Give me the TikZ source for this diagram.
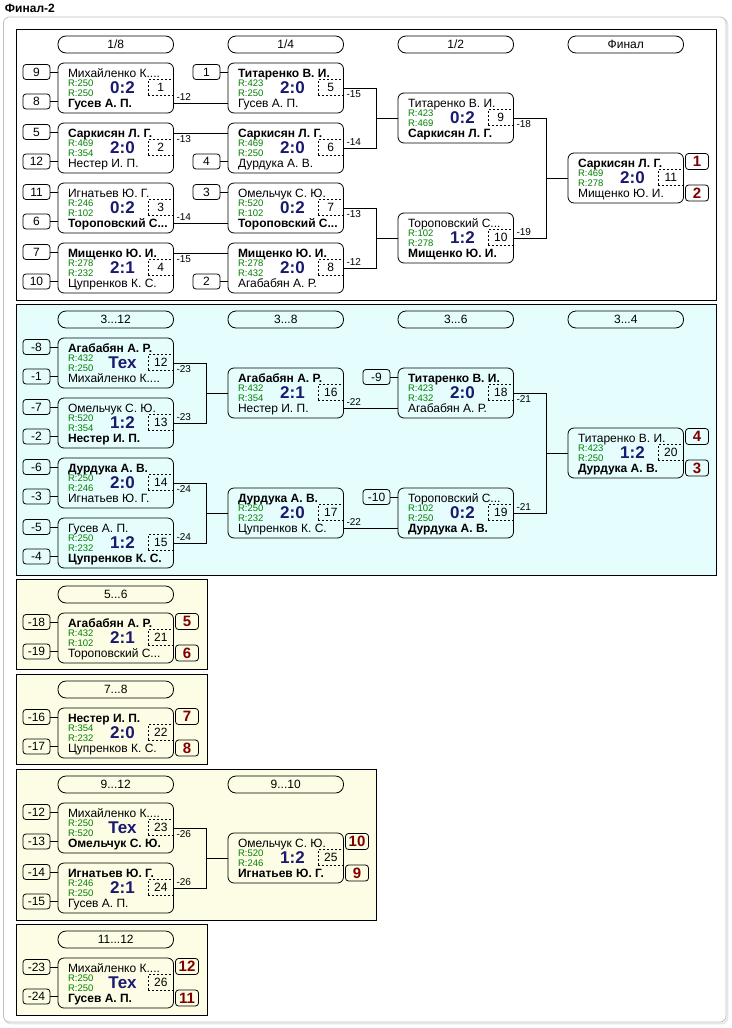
\documentclass[tikz,border=0pt]{standalone}
\usepackage{fontspec}
\setmainfont{Liberation Sans}
\usetikzlibrary{calc}
\definecolor{cyanbg}{RGB}{230,253,253}
\definecolor{yelbg}{RGB}{253,253,230}
\definecolor{rgreen}{RGB}{0,128,0}
\definecolor{scblue}{RGB}{25,25,112}
\definecolor{resred}{RGB}{128,0,0}
\tikzset{
 every node/.style={inner sep=0pt, outer sep=0pt},
 mbox/.style={draw, line width=0.8pt, rounded corners=6pt, minimum width=115.5pt, minimum height=50pt},
 hdr/.style={draw, line width=0.8pt, rounded corners=8pt, minimum width=115.5pt, minimum height=17pt, font=\fontsize{12}{12}\selectfont},
 sbox/.style={draw, line width=0.8pt, rounded corners=3pt, minimum width=27pt, minimum height=15pt, font=\fontsize{12}{12}\selectfont},
 rbox/.style={draw, line width=0.8pt, rounded corners=3pt, minimum width=23pt, minimum height=16pt, font=\fontsize{15}{15}\selectfont\bfseries, text=resred},
 dbox/.style={draw, dash pattern=on 2pt off 2pt, line width=0.8pt, minimum width=25pt, minimum height=16.5pt, font=\fontsize{12}{12}\selectfont},
 nmtxt/.style={font=\fontsize{12}{12}\selectfont, anchor=base west},
 rtxt/.style={font=\fontsize{9.5}{9.5}\selectfont, text=rgreen, anchor=base west},
 sctxt/.style={font=\fontsize{17}{17}\selectfont\bfseries, text=scblue, anchor=base},
 lbl/.style={font=\fontsize{10}{10}\selectfont, anchor=west},
 sect/.style={draw, line width=0.8pt},
 conn/.style={line width=0.8pt},
}
% id, left, top, name1, r1, score, name2, r2
\newcommand\mtch[8]{%
 \node[mbox] (m#1) at ({#2+57.75},{#3+25}) {};
 \node[nmtxt] (m#1-a) at ({#2+10},{#3+14}) {#4};
 \node[rtxt] (m#1-ra) at ({#2+10},{#3+23}) {R:#5};
 \node[sctxt] (m#1-s) at ({#2+64.5},{#3+30.5}) {#6};
 \node[rtxt] (m#1-rb) at ({#2+10},{#3+33}) {R:#8};
 \node[nmtxt] (m#1-b) at ({#2+10},{#3+44}) {#7};
 \node[dbox] (m#1-d) at ({#2+102.75},{#3+24.5}) {#1};
 \coordinate (m#1-it) at (#2,{#3+10});
 \coordinate (m#1-ib) at (#2,{#3+40});
 \coordinate (m#1-ot) at ({#2+115.5},{#3+10});
 \coordinate (m#1-ob) at ({#2+115.5},{#3+40});
}
% name, match, yoffset, text
\newcommand\seed[4]{%
 \node[sbox] (#1) at ($(m#2.north west)+(-21.5,#3)$) {#4};
 \draw[conn] (#1.east) -- (#1.east -| m#2.west);
}
\newcommand\res[4]{%
 \node[rbox] (#1) at ($(m#2.north east)+(13.5,#3)$) {#4};
}
\newcommand\brk[3]{%
 \draw[conn] (m#1.east) -- ++(33,0) coordinate (j#3) |- (m#2.east);
 \draw[conn] (j#3 |- m#3.west) -- (m#3.west);
}
\begin{document}
\begin{tikzpicture}[x=1pt,y=-1pt]
\useasboundingbox (0,0) rectangle (731,1028);
\fill[white] (0,0) rectangle (731,1028);
\node[font=\fontsize{12}{12}\selectfont\bfseries, anchor=base west] (title) at (5,12.5) {Финал-2};
% outer panel
\draw[draw=black!10, line width=1.5pt, rounded corners=6pt] (4.5,18.5) rectangle (727.5,1023.5);
\draw[draw=black!25, fill=white, line width=0.8pt, rounded corners=6pt] (3.5,17) rectangle (726,1022);
% sections
\draw[sect, fill=white] (16,29) rectangle (716,300);
\draw[sect, fill=cyanbg] (16,304) rectangle (716,575);
\draw[sect, fill=yelbg] (16,579) rectangle (207,669);
\draw[sect, fill=yelbg] (16,674) rectangle (207,764);
\draw[sect, fill=yelbg] (16,769) rectangle (376,920);
\draw[sect, fill=yelbg] (16,924) rectangle (207,1015);
% headers
\node[hdr] (h1) at (115.75,44.5) {1/8};
\node[hdr] (h2) at (285.75,44.5) {1/4};
\node[hdr] (h3) at (455.75,44.5) {1/2};
\node[hdr] (h4) at (625.75,44.5) {Финал};
\node[hdr] (h5) at (115.75,319.5) {3...12};
\node[hdr] (h6) at (285.75,319.5) {3...8};
\node[hdr] (h7) at (455.75,319.5) {3...6};
\node[hdr] (h8) at (625.75,319.5) {3...4};
\node[hdr] (h9) at (115.75,594.5) {5...6};
\node[hdr] (h10) at (115.75,689.5) {7...8};
\node[hdr] (h11) at (115.75,784.5) {9...12};
\node[hdr] (h12) at (285.75,784.5) {9...10};
\node[hdr] (h13) at (115.75,939.5) {11...12};
% section 1
\mtch{1}{58}{63}{Михайленко К....}{250}{0:2}{\textbf{Гусев А. П.}}{250}
\mtch{2}{58}{123}{\textbf{Саркисян Л. Г.}}{469}{2:0}{Нестер И. П.}{354}
\mtch{3}{58}{183}{Игнатьев Ю. Г.}{246}{0:2}{\textbf{Тороповский С...}}{102}
\mtch{4}{58}{243}{\textbf{Мищенко Ю. И.}}{278}{2:1}{Цупренков К. С.}{232}
\mtch{5}{228}{63}{\textbf{Титаренко В. И.}}{423}{2:0}{Гусев А. П.}{250}
\mtch{6}{228}{123}{\textbf{Саркисян Л. Г.}}{469}{2:0}{Дурдука А. В.}{250}
\mtch{7}{228}{183}{Омельчук С. Ю.}{520}{0:2}{\textbf{Тороповский С...}}{102}
\mtch{8}{228}{243}{\textbf{Мищенко Ю. И.}}{278}{2:0}{Агабабян А. Р.}{432}
\mtch{9}{398}{93}{Титаренко В. И.}{423}{0:2}{\textbf{Саркисян Л. Г.}}{469}
\mtch{10}{398}{213}{Тороповский С...}{102}{1:2}{\textbf{Мищенко Ю. И.}}{278}
\mtch{11}{568}{153}{\textbf{Саркисян Л. Г.}}{469}{2:0}{Мищенко Ю. И.}{278}
\seed{s1}{1}{9}{9}\seed{s2}{1}{38.5}{8}
\seed{s3}{2}{9}{5}\seed{s4}{2}{38.5}{12}
\seed{s5}{3}{9}{11}\seed{s6}{3}{38.5}{6}
\seed{s7}{4}{9}{7}\seed{s8}{4}{38.5}{10}
\seed{s9}{5}{9}{1}\seed{s10}{6}{38.5}{4}
\seed{s11}{7}{9}{3}\seed{s12}{8}{38.5}{2}
\draw[conn] (m1-ob) -- (m5-ib);
\draw[conn] (m2-ot) -- (m6-it);
\draw[conn] (m3-ob) -- (m7-ib);
\draw[conn] (m4-ot) -- (m8-it);
\brk{5}{6}{9}
\brk{7}{8}{10}
\brk{9}{10}{11}
\node[lbl] (l1) at ([xshift=3pt,yshift=6pt]m1-ob) {-12};
\node[lbl] (l2) at ([xshift=3pt,yshift=-6pt]m2-ot) {-13};
\node[lbl] (l3) at ([xshift=3pt,yshift=6pt]m3-ob) {-14};
\node[lbl] (l4) at ([xshift=3pt,yshift=-6pt]m4-ot) {-15};
\node[lbl] (l5) at ([xshift=3pt,yshift=-6pt]m5.east) {-15};
\node[lbl] (l6) at ([xshift=3pt,yshift=6pt]m6.east) {-14};
\node[lbl] (l7) at ([xshift=3pt,yshift=-6pt]m7.east) {-13};
\node[lbl] (l8) at ([xshift=3pt,yshift=6pt]m8.east) {-12};
\node[lbl] (l9) at ([xshift=3pt,yshift=-6pt]m9.east) {-18};
\node[lbl] (l10) at ([xshift=3pt,yshift=6pt]m10.east) {-19};
\res{r1}{11}{8.5}{1}\res{r2}{11}{40}{2}
% section 2
\mtch{12}{58}{338}{\textbf{Агабабян А. Р.}}{432}{Тех}{Михайленко К....}{250}
\mtch{13}{58}{398}{Омельчук С. Ю.}{520}{1:2}{\textbf{Нестер И. П.}}{354}
\mtch{14}{58}{458}{\textbf{Дурдука А. В.}}{250}{2:0}{Игнатьев Ю. Г.}{246}
\mtch{15}{58}{518}{Гусев А. П.}{250}{1:2}{\textbf{Цупренков К. С.}}{232}
\mtch{16}{228}{368}{\textbf{Агабабян А. Р.}}{432}{2:1}{Нестер И. П.}{354}
\mtch{17}{228}{488}{\textbf{Дурдука А. В.}}{250}{2:0}{Цупренков К. С.}{232}
\mtch{18}{398}{368}{\textbf{Титаренко В. И.}}{423}{2:0}{Агабабян А. Р.}{432}
\mtch{19}{398}{488}{Тороповский С...}{102}{0:2}{\textbf{Дурдука А. В.}}{250}
\mtch{20}{568}{428}{Титаренко В. И.}{423}{1:2}{\textbf{Дурдука А. В.}}{250}
\seed{s13}{12}{9}{-8}\seed{s14}{12}{38.5}{-1}
\seed{s15}{13}{9}{-7}\seed{s16}{13}{38.5}{-2}
\seed{s17}{14}{9}{-6}\seed{s18}{14}{38.5}{-3}
\seed{s19}{15}{9}{-5}\seed{s20}{15}{38.5}{-4}
\seed{s21}{18}{9}{-9}\seed{s22}{19}{9}{-10}
\brk{12}{13}{16}
\brk{14}{15}{17}
\draw[conn] (m16-ob) -- (m18-ib);
\draw[conn] (m17-ob) -- (m19-ib);
\brk{18}{19}{20}
\node[lbl] (l11) at ([xshift=3pt,yshift=-6pt]m12.east) {-23};
\node[lbl] (l12) at ([xshift=3pt,yshift=6pt]m13.east) {-23};
\node[lbl] (l13) at ([xshift=3pt,yshift=-6pt]m14.east) {-24};
\node[lbl] (l14) at ([xshift=3pt,yshift=6pt]m15.east) {-24};
\node[lbl] (l15) at ([xshift=3pt,yshift=6pt]m16-ob) {-22};
\node[lbl] (l16) at ([xshift=3pt,yshift=6pt]m17-ob) {-22};
\node[lbl] (l17) at ([xshift=3pt,yshift=-6pt]m18.east) {-21};
\node[lbl] (l18) at ([xshift=3pt,yshift=6pt]m19.east) {-21};
\res{r3}{20}{8.5}{4}\res{r4}{20}{40}{3}
% section 3
\mtch{21}{58}{613}{\textbf{Агабабян А. Р.}}{432}{2:1}{Тороповский С...}{102}
\seed{s23}{21}{9}{-18}\seed{s24}{21}{38.5}{-19}
\res{r5}{21}{8.5}{5}\res{r6}{21}{40}{6}
% section 4
\mtch{22}{58}{708}{\textbf{Нестер И. П.}}{354}{2:0}{Цупренков К. С.}{232}
\seed{s25}{22}{9}{-16}\seed{s26}{22}{38.5}{-17}
\res{r7}{22}{8.5}{7}\res{r8}{22}{40}{8}
% section 5
\mtch{23}{58}{803}{Михайленко К....}{250}{Тех}{\textbf{Омельчук С. Ю.}}{520}
\mtch{24}{58}{863}{\textbf{Игнатьев Ю. Г.}}{246}{2:1}{Гусев А. П.}{250}
\mtch{25}{228}{833}{Омельчук С. Ю.}{520}{1:2}{\textbf{Игнатьев Ю. Г.}}{246}
\seed{s27}{23}{9}{-12}\seed{s28}{23}{38.5}{-13}
\seed{s29}{24}{9}{-14}\seed{s30}{24}{38.5}{-15}
\brk{23}{24}{25}
\node[lbl] (l19) at ([xshift=3pt,yshift=-6pt]m23.east) {-26};
\node[lbl] (l20) at ([xshift=3pt,yshift=6pt]m24.east) {-26};
\res{r9}{25}{8.5}{10}\res{r10}{25}{40}{9}
% section 6
\mtch{26}{58}{958}{Михайленко К....}{250}{Тех}{\textbf{Гусев А. П.}}{250}
\seed{s31}{26}{9}{-23}\seed{s32}{26}{38.5}{-24}
\res{r11}{26}{8.5}{12}\res{r12}{26}{40}{11}
\end{tikzpicture}
\end{document}
